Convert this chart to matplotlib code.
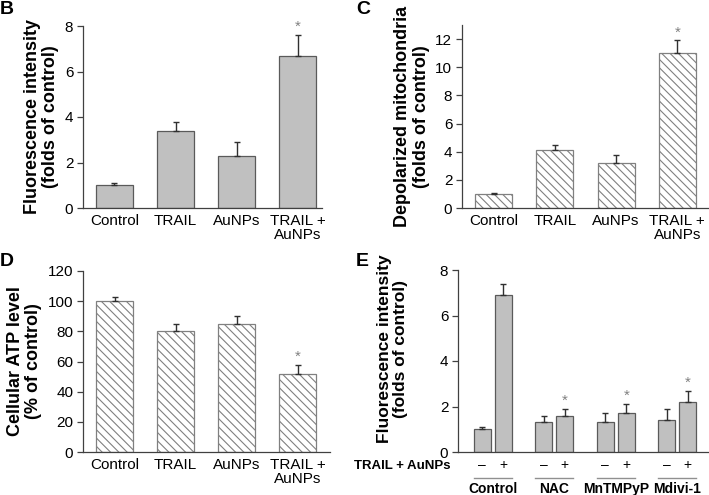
import numpy as np
import matplotlib
matplotlib.use('Agg')
import matplotlib.pyplot as plt

plt.rcParams['font.family'] = ['Liberation Sans', 'DejaVu Sans']
plt.rcParams['hatch.linewidth'] = 0.8

# data
groups = ['Control', 'TRAIL', 'AuNPs', 'TRAIL +\nAuNPs']

b_vals = [1.0, 3.4, 2.3, 6.7]
b_err = [0.1, 0.4, 0.6, 0.9]

c_vals = [1.0, 4.1, 3.2, 11.0]
c_err = [0.1, 0.4, 0.6, 0.9]

d_vals = [100, 80, 85, 52]
d_err = [3, 5, 5, 6]

e_groups = ['Control', 'NAC', 'MnTMPyP', 'Mdivi-1']
e_minus = [1.0, 1.3, 1.3, 1.4]
e_minus_err = [0.1, 0.3, 0.4, 0.5]
e_plus = [6.9, 1.6, 1.7, 2.2]
e_plus_err = [0.5, 0.3, 0.4, 0.5]

W, H = 709, 495
fig = plt.figure(figsize=(W / 100, H / 100), dpi=100)

GRAY = '#c0c0c0'
EDGE = '#5a5a5a'
HATCH_EDGE = '#808080'
STAR = '#808080'
TICK_FS = 11
LABEL_FS = 13


def make_ax(left, right, top, bottom):
    ax = fig.add_axes([left / W, 1 - bottom / H, (right - left) / W, (bottom - top) / H])
    for s in ['top', 'right']:
        ax.spines[s].set_visible(False)
    for s in ['left', 'bottom']:
        ax.spines[s].set_color('#404040')
        ax.spines[s].set_linewidth(0.9)
    ax.tick_params(axis='y', direction='out', length=4, width=0.9, color='#404040',
                   labelsize=TICK_FS, pad=3)
    ax.tick_params(axis='x', length=0, labelsize=TICK_FS, pad=4)
    return ax


def bars(ax, x, vals, err, width, hatch=None):
    if hatch:
        ax.bar(x, vals, width, color='white', edgecolor=HATCH_EDGE, hatch=hatch,
               linewidth=0.9, zorder=2)
    else:
        ax.bar(x, vals, width, color=GRAY, edgecolor=EDGE, linewidth=0.9, zorder=2)
    ax.errorbar(x, vals, yerr=[np.zeros(len(vals)), err], fmt='none',
                ecolor='#303030', elinewidth=1.0, capsize=2.3, capthick=1.0, zorder=3)


def star(ax, x, y):
    ax.text(x, y, '*', ha='center', va='bottom', fontsize=11, color=STAR)


x = np.arange(4)
hatch = '\\\\\\\\'

# panel B
axb = make_ax(83, 322, 26, 208)
bars(axb, x, b_vals, b_err, 0.607)
axb.set_ylim(0, 8)
axb.set_xlim(-0.516, 3.40)
axb.set_yticks([0, 2, 4, 6, 8])
axb.set_xticks(x)
axb.set_xticklabels(groups, linespacing=1.0)
axb.set_ylabel('Fluorescence intensity\n(folds of control)', fontsize=LABEL_FS,
               fontweight='bold', labelpad=4, linespacing=1.1)
star(axb, 3, b_vals[3] + b_err[3] + 0.05)
fig.text(0 / W, 1 - 1 / H, 'B', fontsize=14, fontweight='bold', va='top', ha='left')

# panel C
axc = make_ax(462, 708, 25, 208)
bars(axc, x, c_vals, c_err, 0.603, hatch)
axc.set_ylim(0, 13)
axc.set_xlim(-0.514, 3.50)
axc.set_yticks([0, 2, 4, 6, 8, 10, 12])
axc.set_xticks(x)
axc.set_xticklabels(groups, linespacing=1.0)
axc.set_ylabel('Depolarized mitochondria\n(folds of control)', fontsize=LABEL_FS,
               fontweight='bold', labelpad=4, linespacing=1.1)
star(axc, 3, c_vals[3] + c_err[3] + 0.05)
fig.text(356 / W, 1 - 1 / H, 'C', fontsize=14, fontweight='bold', va='top', ha='left')

# panel D
axd = make_ax(83, 330, 271, 452)
bars(axd, x, d_vals, d_err, 0.607, hatch)
axd.set_ylim(0, 120)
axd.set_xlim(-0.516, 3.53)
axd.set_yticks(range(0, 121, 20))
axd.set_xticks(x)
axd.set_xticklabels(groups, linespacing=1.0)
axd.set_ylabel('Cellular ATP level\n(% of control)', fontsize=LABEL_FS,
               fontweight='bold', labelpad=4, linespacing=1.1)
star(axd, 3, d_vals[3] + d_err[3] + 0.5)
fig.text(0 / W, 1 - 253 / H, 'D', fontsize=14, fontweight='bold', va='top', ha='left')

# panel E
axe = make_ax(458, 708, 270, 452)
off = 0.171
bw = 0.276
bars(axe, x - off, e_minus, e_minus_err, bw)
bars(axe, x + off, e_plus, e_plus_err, bw)
axe.set_ylim(0, 8)
axe.set_xlim(-0.565, 3.50)
axe.set_yticks([0, 2, 4, 6, 8])
axe.set_xticks([])
axe.set_ylabel('Fluorescence intensity\n(folds of control)', fontsize=12.5,
               fontweight='bold', labelpad=4, linespacing=1.1)
axe.yaxis.set_label_coords(-0.2, 0.565)
for i in range(1, 4):
    star(axe, i + off, e_plus[i] + e_plus_err[i] + 0.05)
trans = axe.get_xaxis_transform()
for i, g in enumerate(e_groups):
    axe.text(i - off, -0.07, '\u2013', transform=trans, ha='center', va='center', fontsize=10)
    axe.text(i + off, -0.07, '+', transform=trans, ha='center', va='center', fontsize=10)
    axe.plot([i - 0.31, i + 0.31], [-0.145, -0.145], transform=trans, color='#909090',
             linewidth=1.0, clip_on=False)
    axe.text(i, -0.205, g, transform=trans, ha='center', va='center', fontsize=10,
             fontweight='bold')
fig.text(451 / W, 1 - 466 / H, 'TRAIL + AuNPs', fontsize=9.5, fontweight='bold',
         ha='right', va='center')
fig.text(356 / W, 1 - 253 / H, 'E', fontsize=14, fontweight='bold', va='top', ha='left')

fig.savefig('out.png', dpi=100)
